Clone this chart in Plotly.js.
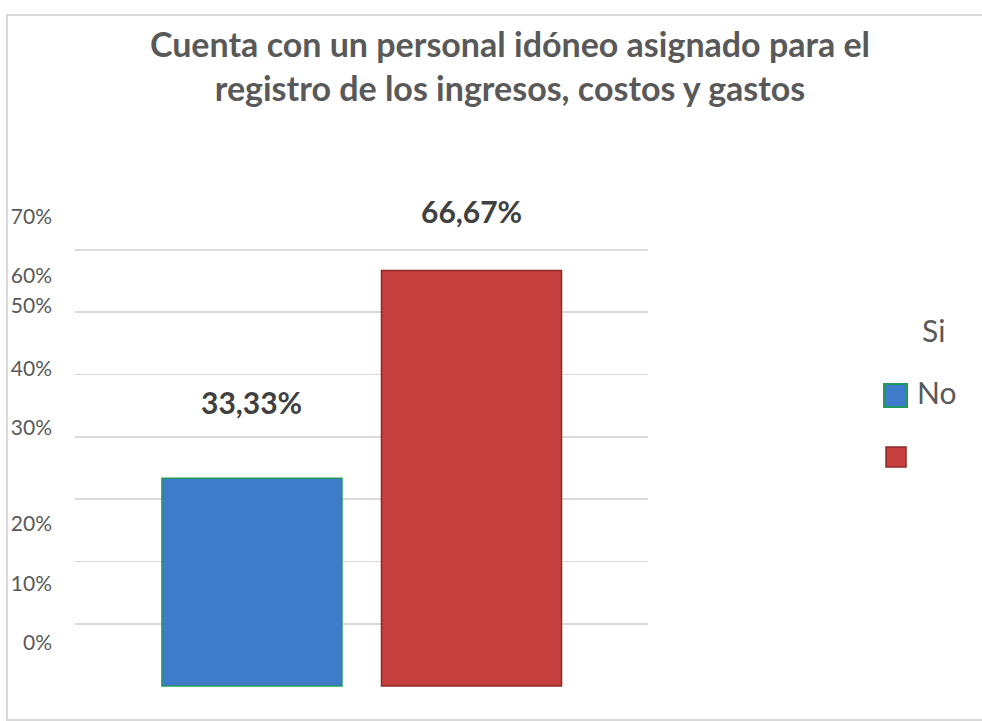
<!DOCTYPE html>
<html>
<head>
<meta charset="utf-8">
<script src="https://cdn.plot.ly/plotly-3.0.1.min.js"></script>
<style>
  html, body { margin: 0; padding: 0; background: #ffffff; }
  #chart { width: 982px; height: 721px; }
</style>
</head>
<body>
<div id="chart"></div>
<script>
// ---- data ----
var categories = ["Si", "No"];
var values = [33.33, 66.67];
var valueLabels = ["33,33%", "66,67%"];
var tickLabels = ["70%", "60%", "50%", "40%", "30%", "20%", "10%", "0%"];
var gridValues = [0, 10, 20, 30, 40, 50, 60, 70];
var legendLabels = ["Si", "No"];
var titleText = "Cuenta con un personal idóneo asignado para el<br>registro de los ingresos, costos y gastos";

// ---- layout / style (not data) ----
var tickLabelPos = [75.3, 65.9, 61.0, 51.0, 41.4, 26.0, 16.4, 6.9]; // where the misplaced labels sit
var labelShift = [76, 60];
var barFill = ["#3e7bcb", "#c53f3e"];
var barLine = ["#1f9a5c", "#8e2a2a"];

var W = 982, H = 721;
var M = { l: 75, r: 334, t: 200, b: 34 };
var pw = W - M.l - M.r, ph = H - M.t - M.b;
function px(x) { return (x - M.l) / pw; }
function py(y) { return (H - M.b - y) / ph; }
var yRange = [-0.15, 78];

var textColor = "#595959";
var font = "Lato, 'Open Sans', sans-serif";

var trace = {
  type: "bar",
  x: categories,
  y: values,
  width: 0.82,
  marker: { color: barFill, line: { color: barLine, width: 1.5 } },
  hoverinfo: "skip",
  showlegend: false
};
var axisTrace = {
  type: "scatter", x: [categories[0]], y: [0], yaxis: "y2",
  mode: "markers", marker: { opacity: 0 }, showlegend: false, hoverinfo: "skip"
};

var annotations = categories.map(function (c, i) {
  return {
    x: c, y: values[i], xref: "x", yref: "y",
    text: "<b>" + valueLabels[i] + "</b>", showarrow: false,
    yanchor: "middle", yshift: labelShift[i],
    font: { family: font, size: 30, color: "#404040" }
  };
});
annotations.push({
  xref: "paper", yref: "paper", x: px(933), y: py(330), xanchor: "center", yanchor: "middle",
  text: legendLabels[0], showarrow: false, font: { family: font, size: 30, color: textColor }
});
annotations.push({
  xref: "paper", yref: "paper", x: px(915), y: py(392), xanchor: "left", yanchor: "middle",
  text: legendLabels[1], showarrow: false, font: { family: font, size: 30, color: textColor }
});

var shapes = [
  { type: "rect", xref: "paper", yref: "paper", x0: px(7), x1: px(990), y0: py(15), y1: py(720),
    line: { color: "#d9d9d9", width: 2 }, fillcolor: "rgba(0,0,0,0)", layer: "below" },
  { type: "rect", xref: "paper", yref: "paper", x0: px(884), x1: px(907), y0: py(407), y1: py(384),
    fillcolor: barFill[0], line: { color: barLine[0], width: 2 } },
  { type: "rect", xref: "paper", yref: "paper", x0: px(886), x1: px(906), y0: py(467), y1: py(447),
    fillcolor: barFill[1], line: { color: barLine[1], width: 1.5 } }
];

var layout = {
  width: W, height: H,
  margin: M,
  paper_bgcolor: "#ffffff", plot_bgcolor: "#ffffff",
  font: { family: font, color: textColor },
  title: {
    text: "<b>" + titleText + "</b>",
    x: 510 / W, xref: "container", xanchor: "center",
    y: 1 - 57 / H, yref: "container", yanchor: "top",
    font: { family: font, size: 34, color: textColor }
  },
  xaxis: {
    type: "category", range: [-0.806, 1.804], showticklabels: false,
    showgrid: false, zeroline: false, showline: false, ticks: "", fixedrange: true
  },
  yaxis: {
    range: yRange, tickvals: gridValues, showticklabels: false,
    showgrid: true, gridcolor: "#d9d9d9", gridwidth: 1.5,
    zeroline: false, showline: false, ticks: ""
  },
  yaxis2: {
    overlaying: "y", side: "left", range: yRange,
    tickvals: tickLabelPos, ticktext: tickLabels,
    showgrid: false, zeroline: false, showline: false, ticks: "",
    ticklabelstandoff: 22,
    tickfont: { family: font, size: 21, color: textColor }
  },
  annotations: annotations,
  shapes: shapes,
  showlegend: false,
  bargap: 0
};

Plotly.newPlot("chart", [trace, axisTrace], layout, { displayModeBar: false, staticPlot: true });
</script>
</body>
</html>
